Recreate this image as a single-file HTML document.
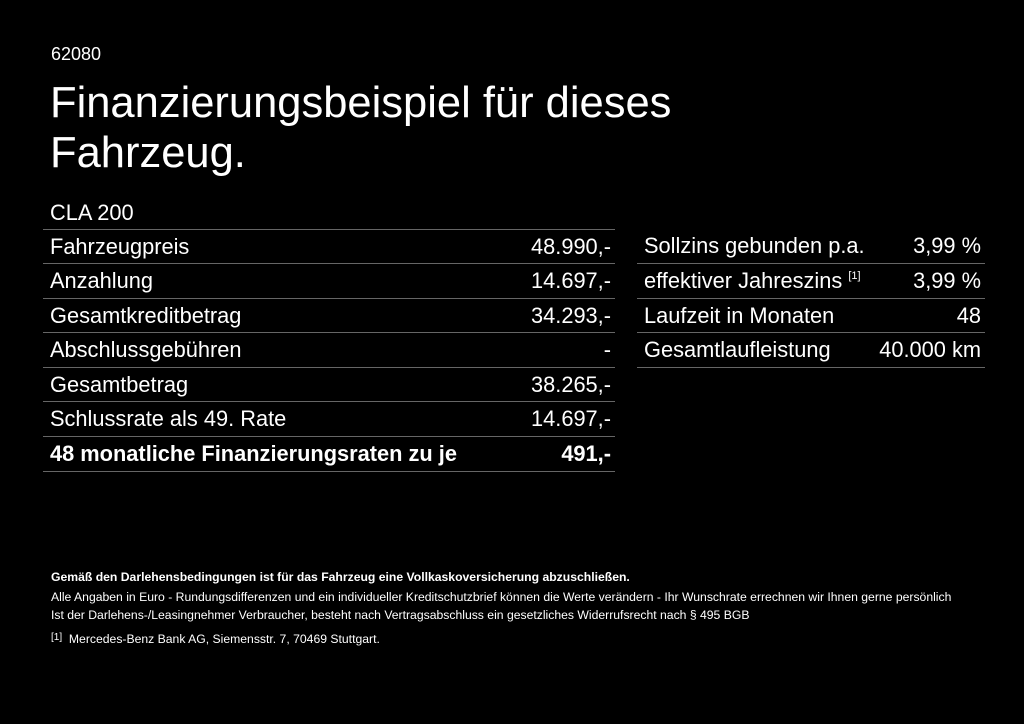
<!DOCTYPE html>
<html><head><meta charset="utf-8"><style>
body{margin:0;width:1024px;height:724px;background:#000;color:#fff;font-family:"Liberation Sans",sans-serif;position:relative;overflow:hidden}
.a{position:absolute;white-space:nowrap}
.row{position:absolute;height:34px;border-top:1px solid #666;font-size:21.8px;line-height:33px}
.row span{position:absolute;top:0}
.row .r{right:4px}
.row .l{left:7px}
sup{font-size:11px;line-height:0;position:relative;top:-9px;vertical-align:baseline}
.s{font-size:12.2px;line-height:18px}
</style></head><body>
<div class="a" style="left:51px;top:44px;font-size:18px">62080</div>
<div class="a" style="left:50px;top:78px;font-size:43.5px;line-height:50px">Finanzierungsbeispiel für dieses<br>Fahrzeug.</div>
<div class="a" style="left:50px;top:200px;font-size:21.8px">CLA 200</div>

<div class="row" style="left:43px;width:572px;top:229px"><span class="l">Fahrzeugpreis</span><span class="r">48.990,-</span></div>
<div class="row" style="left:43px;width:572px;top:263px"><span class="l">Anzahlung</span><span class="r">14.697,-</span></div>
<div class="row" style="left:43px;width:572px;top:298px"><span class="l">Gesamtkreditbetrag</span><span class="r">34.293,-</span></div>
<div class="row" style="left:43px;width:572px;top:332px"><span class="l">Abschlussgebühren</span><span class="r">-</span></div>
<div class="row" style="left:43px;width:572px;top:367px"><span class="l">Gesamtbetrag</span><span class="r">38.265,-</span></div>
<div class="row" style="left:43px;width:572px;top:401px"><span class="l">Schlussrate als 49. Rate</span><span class="r">14.697,-</span></div>
<div class="row" style="left:43px;width:572px;top:436px;font-weight:bold;border-bottom:1px solid #666"><span class="l">48 monatliche Finanzierungsraten zu je</span><span class="r">491,-</span></div>

<div class="row" style="left:637px;width:348px;top:229px;border-top:none"><span class="l">Sollzins gebunden p.a.</span><span class="r">3,99 %</span></div>
<div class="row" style="left:637px;width:348px;top:263px"><span class="l">effektiver Jahreszins <sup>[1]</sup></span><span class="r">3,99 %</span></div>
<div class="row" style="left:637px;width:348px;top:298px"><span class="l">Laufzeit in Monaten</span><span class="r">48</span></div>
<div class="row" style="left:637px;width:348px;top:332px;border-bottom:1px solid #666"><span class="l">Gesamtlaufleistung</span><span class="r">40.000 km</span></div>

<div class="a s" style="left:51px;top:568px;font-weight:bold">Gemäß den Darlehensbedingungen ist für das Fahrzeug eine Vollkaskoversicherung abzuschließen.</div>
<div class="a s" style="left:51px;top:588px">Alle Angaben in Euro - Rundungsdifferenzen und ein individueller Kreditschutzbrief können die Werte verändern - Ihr Wunschrate errechnen wir Ihnen gerne persönlich</div>
<div class="a s" style="left:51px;top:606px">Ist der Darlehens-/Leasingnehmer Verbraucher, besteht nach Vertragsabschluss ein gesetzliches Widerrufsrecht nach § 495 BGB</div>
<div class="a s" style="left:51px;top:630px"><span style="font-size:10px;position:relative;top:-3px">[1]</span>&nbsp; Mercedes-Benz Bank AG, Siemensstr. 7, 70469 Stuttgart.</div>
</body></html>
